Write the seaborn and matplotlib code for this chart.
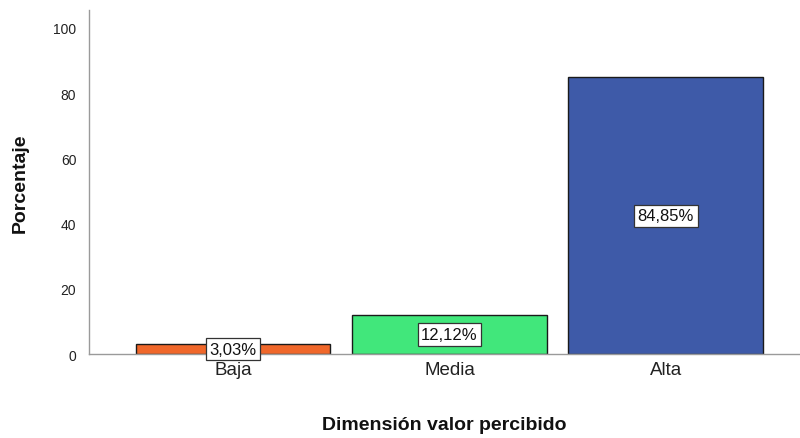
import matplotlib
matplotlib.use("Agg")
import matplotlib.pyplot as plt
import seaborn as sns
import pandas as pd

categorias = ["Baja", "Media", "Alta"]
porcentajes = [3.03, 12.12, 84.85]
etiquetas = ["3,03%", "12,12%", "84,85%"]
colores = ["#F0672A", "#41E77B", "#3E5AA8"]
ticks_y = [0, 20, 40, 60, 80, 100]

sns.set_style("white")
plt.rcParams["font.family"] = ["Liberation Sans", "DejaVu Sans"]

df = pd.DataFrame({"nivel": categorias, "pct": porcentajes})

fig = plt.figure(figsize=(8, 4.39), dpi=100)
ax = fig.add_axes([0.111, 0.191, 0.889, 0.784])

sns.barplot(data=df, x="nivel", y="pct", hue="nivel", palette=colores,
            order=categorias, hue_order=categorias, width=0.9, saturation=1,
            edgecolor="#1a1a1a", linewidth=1.0, legend=False, ax=ax)

for i, (v, t) in enumerate(zip(porcentajes, etiquetas)):
    ax.text(i, v / 2, t, ha="center", va="center", fontsize=12, color="#111111",
            bbox=dict(boxstyle="square,pad=0.22", facecolor="white",
                      edgecolor="#333333", linewidth=0.9))

ax.set_xlim(-0.667, 2.62)
ax.set_ylim(0, 105.5)
ax.set_yticks(ticks_y)
ax.set_yticklabels([str(t) for t in ticks_y], fontsize=10, color="#222222")
ax.tick_params(axis="x", labelsize=13.5, colors="#222222", length=0, pad=5)
ax.tick_params(axis="y", length=0, pad=9)

for s in ["top", "right"]:
    ax.spines[s].set_visible(False)
for s in ["left", "bottom"]:
    ax.spines[s].set_color("#9a9a9a")
    ax.spines[s].set_linewidth(1.0)

ax.set_xlabel("Dimensión valor percibido", fontsize=14, fontweight="bold",
              color="#111111", labelpad=27)
ax.set_ylabel("Porcentaje", fontsize=14, fontweight="bold", color="#111111",
              labelpad=30)
ax.yaxis.set_label_coords(-0.085, 0.5)

fig.savefig("out.png", dpi=100)
